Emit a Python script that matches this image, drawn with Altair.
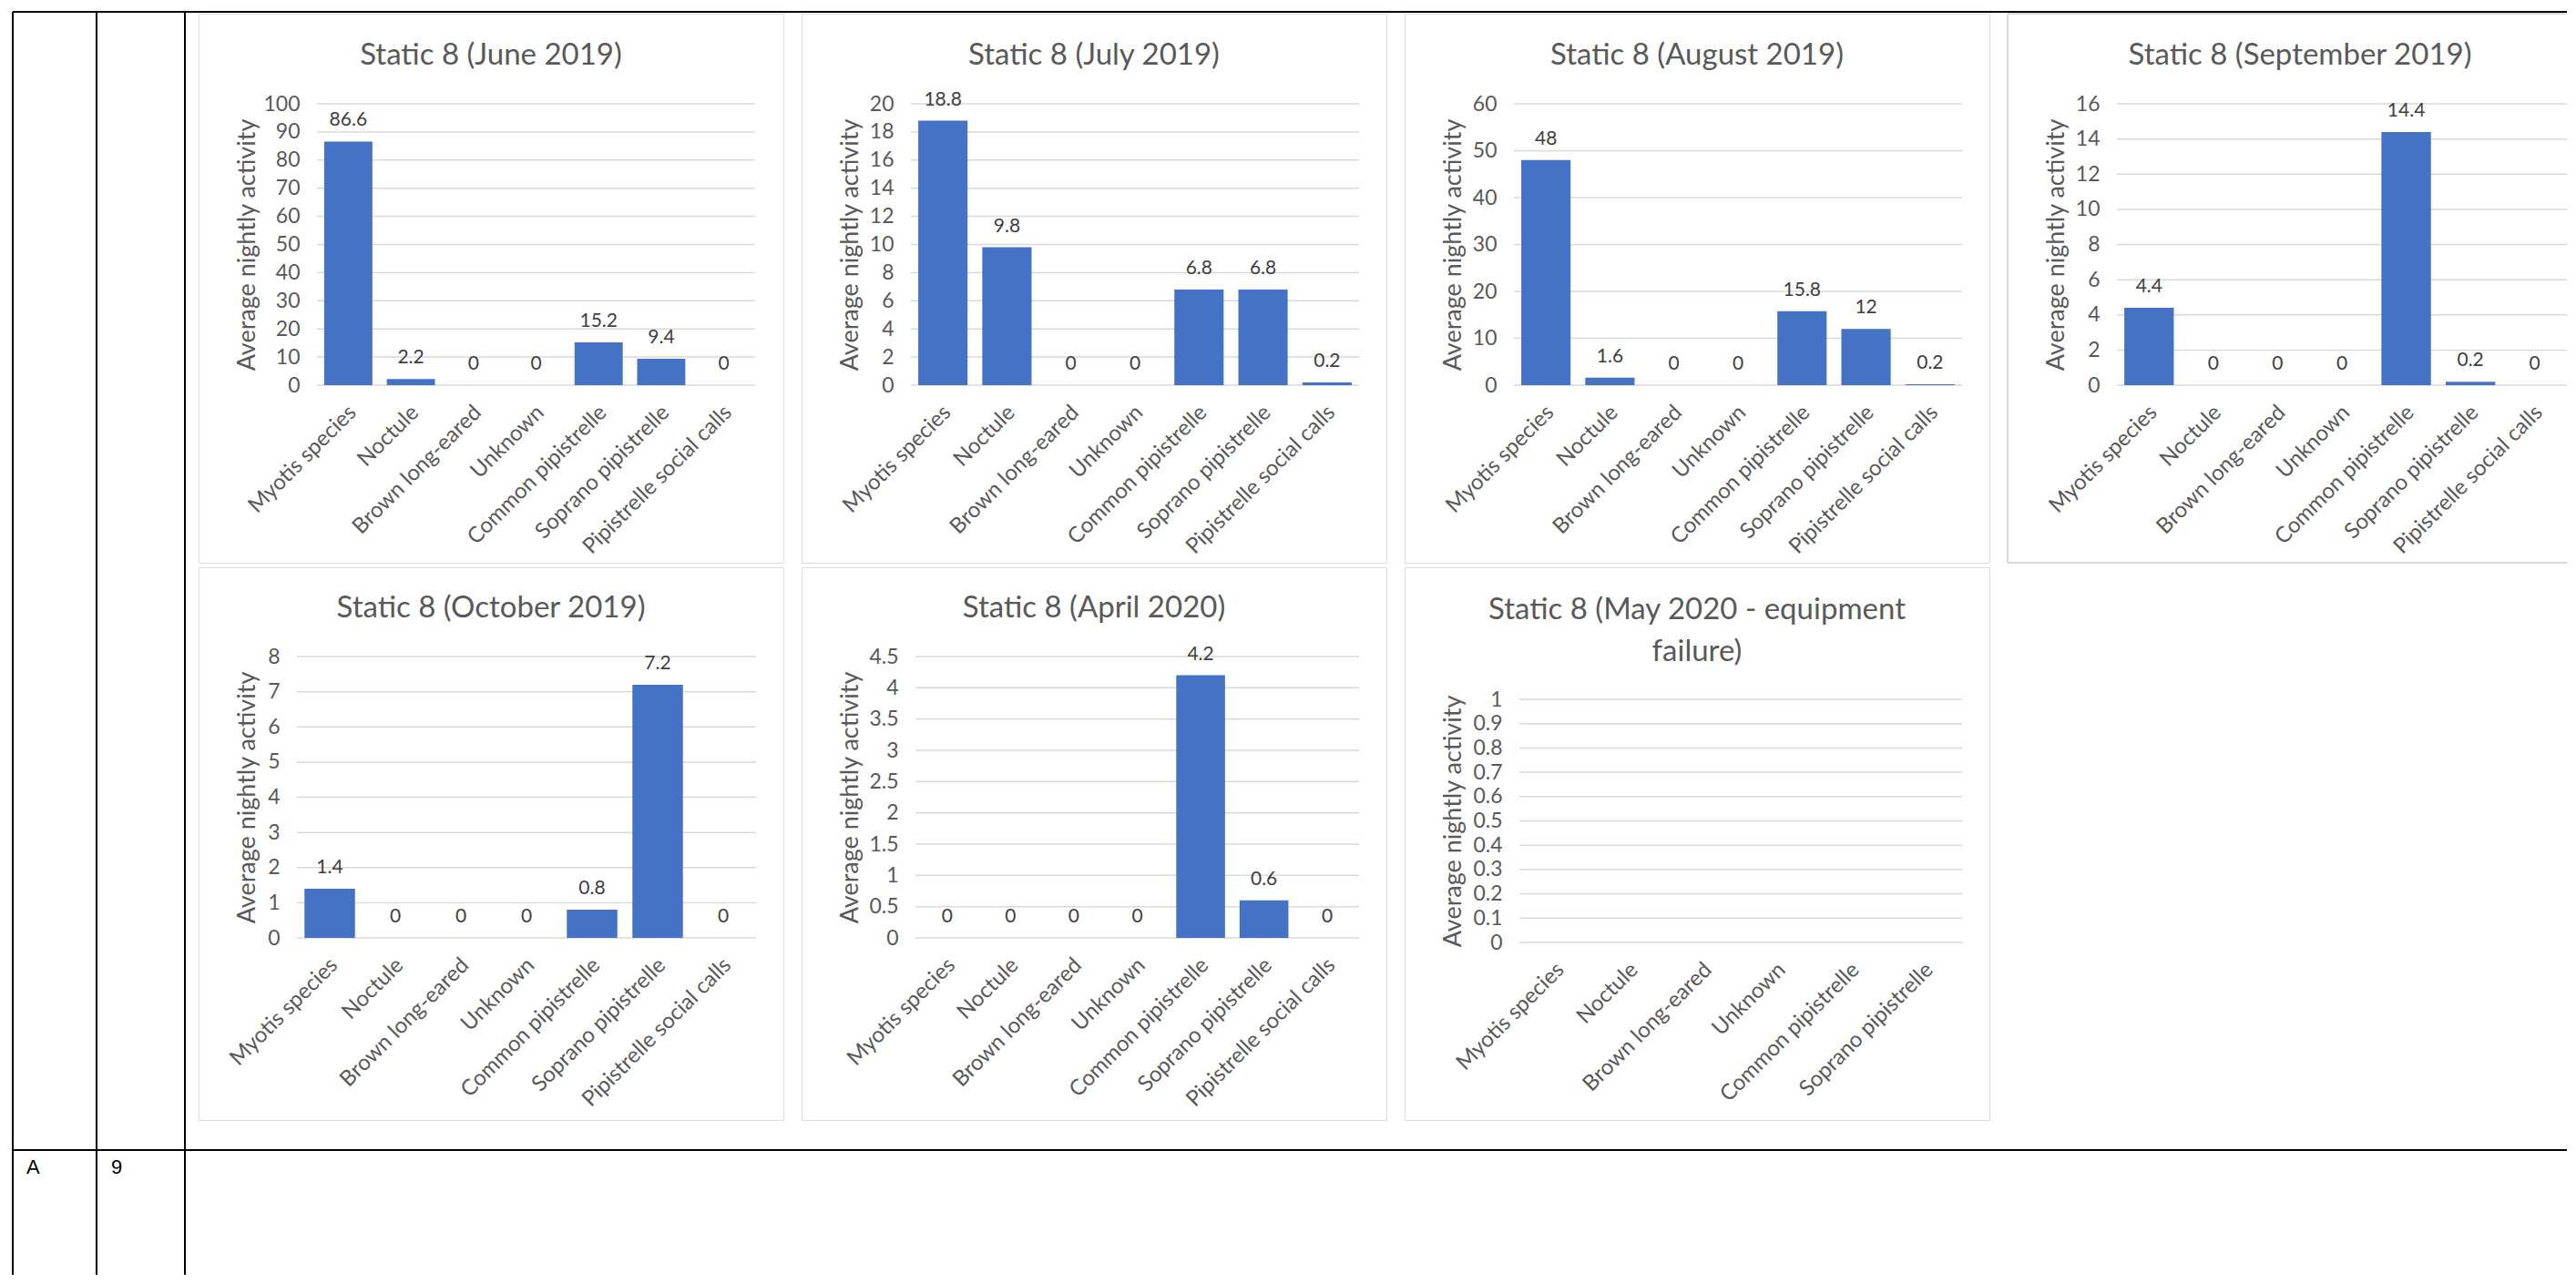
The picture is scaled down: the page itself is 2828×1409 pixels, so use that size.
import altair as alt
import pandas as pd

# ---------------- data ----------------
categories = ["Myotis species", "Noctule", "Brown long-eared", "Unknown",
              "Common pipistrelle", "Soprano pipistrelle", "Pipistrelle social calls"]
categories_may = ["Myotis species", "Noctule", "Brown long-eared", "Unknown",
                  "Common pipistrelle", "Soprano pipistrelle"]

june_values = [86.6, 2.2, 0, 0, 15.2, 9.4, 0]
july_values = [18.8, 9.8, 0, 0, 6.8, 6.8, 0.2]
august_values = [48, 1.6, 0, 0, 15.8, 12, 0.2]
september_values = [4.4, 0, 0, 0, 14.4, 0.2, 0]
october_values = [1.4, 0, 0, 0, 0.8, 7.2, 0]
april_values = [0, 0, 0, 0, 4.2, 0.6, 0]
may_values = []  # equipment failure: no data

june_ticks = [0, 10, 20, 30, 40, 50, 60, 70, 80, 90, 100]
july_ticks = [0, 2, 4, 6, 8, 10, 12, 14, 16, 18, 20]
august_ticks = [0, 10, 20, 30, 40, 50, 60]
september_ticks = [0, 2, 4, 6, 8, 10, 12, 14, 16]
october_ticks = [0, 1, 2, 3, 4, 5, 6, 7, 8]
april_ticks = [0, 0.5, 1, 1.5, 2, 2.5, 3, 3.5, 4, 4.5]
may_ticks = [0, 0.1, 0.2, 0.3, 0.4, 0.5, 0.6, 0.7, 0.8, 0.9, 1]

title_june = ["Static 8 (June 2019)"]
title_july = ["Static 8 (July 2019)"]
title_august = ["Static 8 (August 2019)"]
title_september = ["Static 8 (September 2019)"]
title_october = ["Static 8 (October 2019)"]
title_april = ["Static 8 (April 2020)"]
title_may = ["Static 8 (May 2020 - equipment", "failure)"]

y_title = "Average nightly activity"
row_letter = "A"
row_number = "9"

# ---------------- style ----------------
FONT = "Lato"
BAR = "#4472C4"
GRID = "#d9d9d9"
AXIS_TXT = "#595959"
LABEL_TXT = "#404040"
ONE = pd.DataFrame({"k": [0]})


def make_panel(title_lines, title_ys, cats, values, ticks, W, H, left, right, top, bottom,
               own_border=False, extra=None):
    xscale = alt.Scale(domain=cats, range=[left, right], paddingInner=0.23, paddingOuter=0.115)
    yscale = alt.Scale(domain=[ticks[0], ticks[-1]], range=[bottom, top], nice=False, zero=False)

    if values:
        df = pd.DataFrame({"cat": cats, "val": values})
    else:
        df = pd.DataFrame({"cat": cats})

    xaxis = alt.Axis(title=None, labelAngle=-45, labelAlign="right", labelBaseline="middle",
                     labelFont=FONT, labelFontSize=24, labelColor=AXIS_TXT, labelPadding=26,
                     labelOffset=5, labelLimit=500, labelOverlap=False, ticks=False,
                     domain=False, grid=False, offset=bottom - H)
    yaxis = alt.Axis(title=y_title, titleFont=FONT, titleFontSize=27, titleFontWeight="normal",
                     titleColor=AXIS_TXT, titleX=53 - left, titleY=(top + bottom) / 2,
                     titleAngle=270, titleAlign="center", titleBaseline="middle",
                     labelFont=FONT, labelFontSize=23, labelColor=AXIS_TXT, labelPadding=19,
                     values=ticks, labelExpr="'' + datum.value", ticks=False, domain=False,
                     grid=False, labelOverlap=False, offset=-left)

    grid = alt.Chart(pd.DataFrame({"t": ticks})).mark_rule(color=GRID, strokeWidth=1.5).encode(
        y=alt.Y("t:Q", scale=yscale, axis=yaxis),
        x=alt.value(left), x2=alt.value(right),
    )
    bars = alt.Chart(df).mark_bar(color=BAR).encode(
        x=alt.X("cat:N", scale=xscale, axis=xaxis),
        y=alt.Y("val:Q", scale=yscale, axis=yaxis),
    )
    layers = [grid, bars]
    if values:
        labels = alt.Chart(df).mark_text(font=FONT, fontSize=21, color=LABEL_TXT,
                                         baseline="alphabetic", dy=-17).encode(
            x=alt.X("cat:N", scale=xscale, axis=xaxis),
            y=alt.Y("val:Q", scale=yscale, axis=yaxis),
            text=alt.Text("val:Q", format="~g"),
        )
        layers.append(labels)
    for line, ty in zip(title_lines, title_ys):
        layers.append(alt.Chart(ONE).mark_text(font=FONT, fontSize=33, color=AXIS_TXT,
                                               align="center", baseline="middle").encode(
            x=alt.value(321), y=alt.value(ty), text=alt.value(line)))
    if own_border:
        layers.append(alt.Chart(ONE).mark_rule(color=GRID, strokeWidth=2).encode(
            x=alt.value(0), y=alt.value(0), y2=alt.value(H)))
        layers.append(alt.Chart(ONE).mark_rule(color=GRID, strokeWidth=2).encode(
            x=alt.value(0), x2=alt.value(W), y=alt.value(0)))
        layers.append(alt.Chart(ONE).mark_rule(color=GRID, strokeWidth=2).encode(
            x=alt.value(0), x2=alt.value(W), y=alt.value(H)))
    if extra:
        layers.extend(extra)
    ch = alt.layer(*layers).properties(width=W, height=H)
    if own_border:
        ch = ch.properties(view=alt.ViewBackground(stroke="transparent"))
    return ch


# table frame drawn relative to the first panel
table = []
for xv in (-204, -112, -15):
    table.append(alt.Chart(ONE).mark_rule(color="black", strokeWidth=2).encode(
        x=alt.value(xv), y=alt.value(-2), y2=alt.value(1385)))
for yv in (-2, 1248):
    table.append(alt.Chart(ONE).mark_rule(color="black", strokeWidth=2).encode(
        x=alt.value(-204), x2=alt.value(2600), y=alt.value(yv)))
table.append(alt.Chart(ONE).mark_text(font="Liberation Sans", fontSize=22, color="black",
                                      align="left", baseline="alphabetic").encode(
    x=alt.value(-189), y=alt.value(1274), text=alt.value(row_letter)))
table.append(alt.Chart(ONE).mark_text(font="Liberation Sans", fontSize=22, color="black",
                                      align="left", baseline="alphabetic").encode(
    x=alt.value(-96), y=alt.value(1274), text=alt.value(row_number)))

H1, H2 = 603, 607
p1 = make_panel(title_june, [46], categories, june_values, june_ticks, 642, H1, 130, 611, 99, 408,
                extra=table)
p2 = make_panel(title_july, [46], categories, july_values, july_ticks, 642, H1, 120, 612, 99, 408)
p3 = make_panel(title_august, [46], categories, august_values, august_ticks, 642, H1, 120, 612, 99, 408)
p4 = make_panel(title_september, [46], categories, september_values, september_ticks, 614, H1,
                120, 614, 99, 408, own_border=True)
p5 = make_panel(title_october, [45], categories, october_values, october_ticks, 642, H2, 108, 612, 98, 407)
p6 = make_panel(title_april, [45], categories, april_values, april_ticks, 642, H2, 125, 612, 98, 407)
p7 = make_panel(title_may, [47, 93], categories_may, may_values, may_ticks, 642, H2, 126, 612, 145, 412)

chart = alt.concat(p1, p2, p3, p4, p5, p6, p7, columns=4, bounds="flush", align="each",
                   spacing={"row": 5, "column": 20}).properties(
    padding={"left": 4, "top": 3, "right": 0, "bottom": 0}
).configure_view(stroke=GRID, strokeWidth=2).configure(background="white", font=FONT)

chart.save("out.html", embed_options={"renderer": "svg", "actions": False})
